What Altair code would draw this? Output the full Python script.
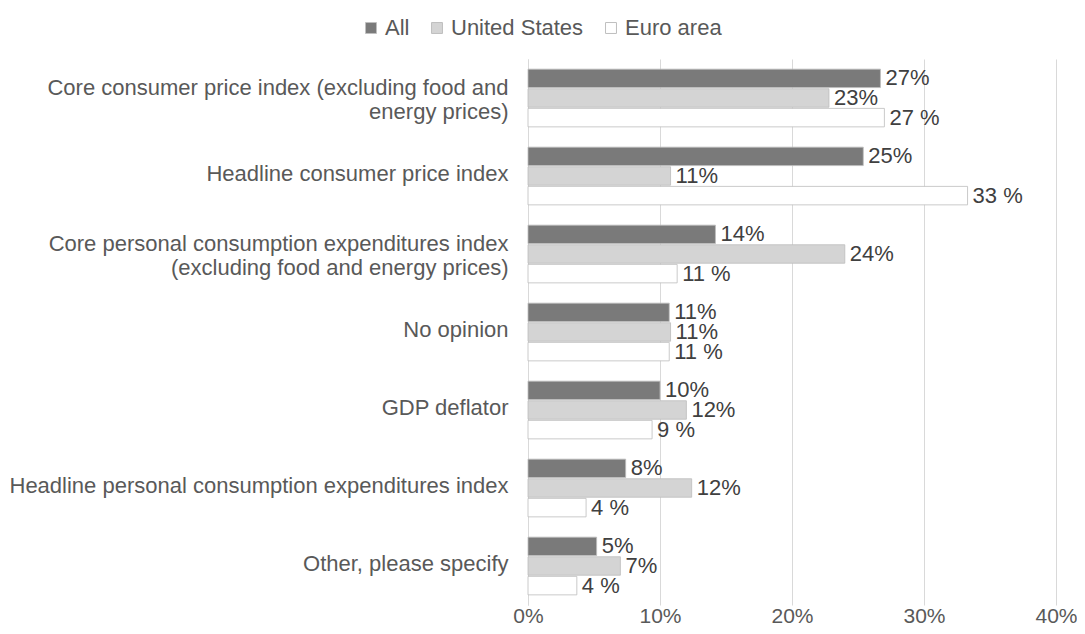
import altair as alt
import pandas as pd

categories = [
    "Core consumer price index (excluding food and energy prices)",
    "Headline consumer price index",
    "Core personal consumption expenditures index (excluding food and energy prices)",
    "No opinion",
    "GDP deflator",
    "Headline personal consumption expenditures index",
    "Other, please specify",
]
label_lines = {
    categories[0]: ["Core consumer price index (excluding food and", "energy prices)"],
    categories[2]: ["Core personal consumption expenditures index", "(excluding food and energy prices)"],
}
series = ["All", "United States", "Euro area"]
all_vals = [26.7, 25.4, 14.2, 10.7, 10.0, 7.4, 5.2]
us_vals = [22.8, 10.8, 24.0, 10.8, 12.0, 12.4, 7.0]
euro_vals = [27.0, 33.3, 11.3, 10.7, 9.4, 4.4, 3.7]
all_labels = ["27%", "25%", "14%", "11%", "10%", "8%", "5%"]
us_labels = ["23%", "11%", "24%", "11%", "12%", "12%", "7%"]
euro_labels = ["27 %", "33 %", "11 %", "11 %", "9 %", "4 %", "4 %"]
x_ticks = [0, 10, 20, 30, 40]

rows = []
for s, vals, labs in [("All", all_vals, all_labels), ("United States", us_vals, us_labels), ("Euro area", euro_vals, euro_labels)]:
    for c, v, l in zip(categories, vals, labs):
        rows.append({"category": c, "series": s, "value": v, "label": l})
df = pd.DataFrame(rows)

label_expr = "datum.value == '%s' ? %s : datum.value == '%s' ? %s : datum.value" % (
    categories[0], str(label_lines[categories[0]]),
    categories[2], str(label_lines[categories[2]]),
)
two_line_test = "datum.value == '%s' || datum.value == '%s'" % (categories[0], categories[2])

FONT = "Liberation Sans"
TXT = "#595959"
FS = 22

y = alt.Y("category:N", sort=categories, title=None,
          scale=alt.Scale(paddingInner=0.26, paddingOuter=0.13),
          axis=alt.Axis(labelExpr=label_expr, labelFont=FONT, labelFontSize=FS,
                        labelColor=TXT, ticks=False, domain=True, domainColor="#d9d9d9",
                        labelPadding=20, labelLimit=600, labelLineHeight=24,
                        labelOffset={"condition": {"test": two_line_test, "value": -10}, "value": -2}))
yoff = alt.YOffset("series:N", sort=series, scale=alt.Scale(paddingInner=0.06))
x = alt.X("value:Q", title=None,
          scale=alt.Scale(domain=[0, 40]),
          axis=alt.Axis(values=x_ticks, labelExpr="datum.value + '%'", labelFont=FONT,
                        labelFontSize=21, labelColor=TXT, ticks=False, domain=False,
                        labelFlush=False,
                        grid=True, gridColor="#d9d9d9", labelPadding=0))

color = alt.Color("series:N", sort=series, title=None,
                  scale=alt.Scale(domain=series, range=["#7a7a7a", "#d4d4d4", "#ffffff"]),
                  legend=alt.Legend(orient="none", legendX=-168, legendY=-42, direction="horizontal",
                                    symbolType="square", symbolSize=120, symbolStrokeWidth=1,
                                    symbolStrokeColor="#bfbfbf",
                                    labelFont=FONT, labelFontSize=FS, labelColor=TXT,
                                    columnPadding=16, symbolOffset=0, labelOffset=3))

bars = alt.Chart(df).mark_bar(stroke="#bdbdbd", strokeWidth=0.8).encode(
    y=y, yOffset=yoff, x=x, color=color
)
texts = alt.Chart(df).mark_text(align="left", baseline="middle", dx=5, font=FONT,
                                fontSize=FS, color="#404040").encode(
    y=alt.Y("category:N", sort=categories), yOffset=yoff, x="value:Q", text="label:N"
)

chart = alt.layer(bars, texts).properties(
    width=528, height=546,
    autosize=alt.AutoSizeParams(type="none"),
    padding={"left": 520, "top": 51, "right": 21, "bottom": 21},
).configure_view(stroke=None)

chart.save("out.html", embed_options={"renderer": "svg", "actions": False})
